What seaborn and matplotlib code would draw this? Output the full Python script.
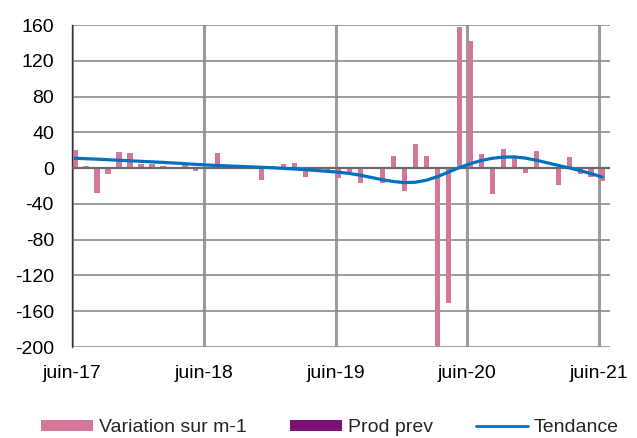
import numpy as np
import pandas as pd
import matplotlib
matplotlib.use("Agg")
import matplotlib.pyplot as plt
from matplotlib.patches import Patch
from matplotlib.lines import Line2D
import seaborn as sns

# ================= DATA =================

# monthly change, juin-17 .. juin-21 (49 months)
variation = [20, 2, -28, -7, 18, 17, 4.5, 4.5, 2.5, 1, 5.5, -3.5,
             0.5, 17, 1, 0.5, 0, -13, 2.5, 4.5, 5.5, -10, -1, -2,
             -10.5, -7.5, -17, -1.5, -17, 14, -26, 27, 13, -200, -151, 158,
             142, 16, -29, 21, 14, -6, 19, 0.5, -19, 12, -7, -10,
             -14]

tendance = [11, 10.5, 10, 9.4, 8.8, 8.2, 7.6, 7, 6.4, 5.7, 5, 4.2,
            3.5, 2.9, 2.4, 1.9, 1.4, 0.9, 0.4, -0.3, -1.0, -1.8, -2.7, -3.6,
            -4.6, -6.0, -8.0, -10.5, -13.0, -15.0, -16.2, -15.8, -13.5, -9.5, -4.5, 0.5,
            5.0, 8.5, 11.0, 12.3, 12.5, 11.2, 8.8, 6.0, 3.0, 0.3, -2.8, -6.2,
            -10.0]

tick_labels = ["juin-17", "juin-18", "juin-19", "juin-20", "juin-21"]
y_ticks = [-200, -160, -120, -80, -40, 0, 40, 80, 120, 160]

PINK = "#D5779B"
PURPLE = "#7B1170"
BLUE = "#0070C0"

# ================= STYLE =================

sns.set_theme(style="white")
plt.rcParams["font.family"] = ["Liberation Sans", "DejaVu Sans"]
FS = 14

fig = plt.figure(figsize=(6.37, 4.38), dpi=100)
ax = fig.add_axes([72 / 637, 1 - 347 / 438, (610 - 72) / 637, (347 - 25) / 438])

mois = np.arange(len(variation)) + 0.28
df = pd.DataFrame({"mois": mois, "variation": variation, "tendance": tendance})

# ================= BARS + TREND =================

sns.barplot(data=df, x="mois", y="variation", native_scale=True, color=PINK,
            saturation=1, width=0.48, errorbar=None, linewidth=0, ax=ax,
            zorder=2)

ax.axhline(0, color="#6A6A6A", lw=1.6, zorder=3)

sns.lineplot(data=df, x="mois", y="tendance", color=BLUE, linewidth=2.3,
             ax=ax, zorder=4)

# ================= AXES =================

ax.set_xlim(0, 49)
ax.set_ylim(-200, 160)
ax.set_xticks([0, 12, 24, 36, 48])
ax.set_xticklabels(tick_labels, fontsize=FS, color="black")
ax.set_yticks(y_ticks)
ax.set_yticklabels([str(v) for v in y_ticks], fontsize=FS, color="black")
ax.tick_params(axis="x", length=0, pad=13)
ax.tick_params(axis="y", length=0, pad=13)
ax.set_xlabel("")
ax.set_ylabel("")

ax.set_axisbelow(True)
ax.grid(axis="y", color="#8C8C8C", lw=1.2)
ax.grid(axis="x", color="#9C9C9C", lw=2.2)

for side in ["top", "right", "bottom"]:
    ax.spines[side].set_visible(False)
ax.spines["left"].set_color("#333333")
ax.spines["left"].set_linewidth(1.0)

# ================= LEGEND =================

handles = [
    Patch(facecolor=PINK, edgecolor="none"),
    Patch(facecolor=PURPLE, edgecolor="none"),
    Line2D([], [], color=BLUE, lw=2),
]
fig.legend(handles, ["Variation sur m-1", "Prod prev", "Tendance"],
           loc="lower center", bbox_to_anchor=(0.518, -0.036), ncol=3,
           frameon=False, fontsize=FS, handlelength=2.7, handleheight=0.55,
           handletextpad=0.3, columnspacing=2.2)

fig.savefig("out.png", dpi=100)
